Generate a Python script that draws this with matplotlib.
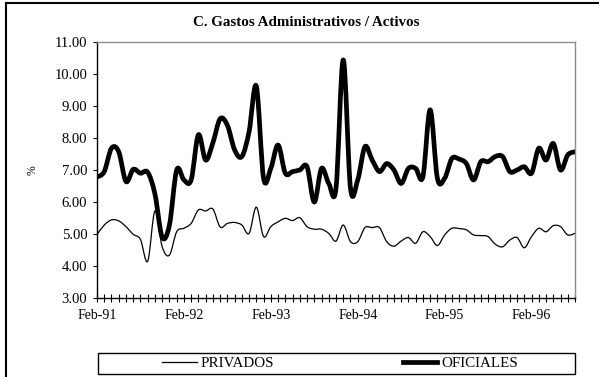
import matplotlib
matplotlib.use("Agg")
import matplotlib.pyplot as plt
import numpy as np
import pandas as pd
from matplotlib.lines import Line2D
from matplotlib.patches import Rectangle, PathPatch
from matplotlib.path import Path
from matplotlib.ticker import FixedLocator, FixedFormatter, FormatStrFormatter

plt.rcParams['font.family'] = ['Liberation Serif', 'DejaVu Serif']

# Monthly categories, Feb-91 .. Aug-96
months = pd.date_range("1991-02-01", "1996-08-01", freq="MS")
month_labels = [d.strftime("%b-%y") for d in months]

# Administrative expenses / assets (%)
privados = [4.98, 5.28, 5.44, 5.41, 5.23, 4.99, 4.83, 4.15, 5.72, 4.60,
            4.34, 5.07, 5.18, 5.33, 5.75, 5.72, 5.78, 5.22, 5.33, 5.36,
            5.28, 5.02, 5.84, 4.92, 5.23, 5.38, 5.49, 5.42, 5.51, 5.23,
            5.15, 5.15, 5.02, 4.78, 5.28, 4.76, 4.76, 5.20, 5.20, 5.20,
            4.76, 4.62, 4.78, 4.89, 4.71, 5.07, 4.92, 4.64, 4.97, 5.18,
            5.17, 5.13, 4.97, 4.95, 4.92, 4.68, 4.60, 4.81, 4.89, 4.57,
            4.92, 5.18, 5.07, 5.26, 5.23, 4.97, 5.02]

oficiales = [6.78, 6.95, 7.68, 7.57, 6.64, 7.02, 6.90, 6.93, 6.25, 4.90,
             5.28, 7.00, 6.69, 6.69, 8.10, 7.31, 7.85, 8.60, 8.40, 7.63,
             7.42, 8.20, 9.62, 6.74, 7.05, 7.78, 6.90, 6.95, 7.00, 7.10,
             6.00, 7.05, 6.58, 6.43, 10.44, 6.43, 6.69, 7.73, 7.31, 6.95,
             7.20, 7.00, 6.58, 7.05, 7.05, 6.79, 8.88, 6.74, 6.74, 7.36,
             7.34, 7.20, 6.69, 7.26, 7.26, 7.42, 7.42, 6.95, 7.00, 7.10,
             6.90, 7.68, 7.31, 7.83, 7.00, 7.47, 7.57]

y_ticks = [3, 4, 5, 6, 7, 8, 9, 10, 11]


def smooth_path(xs, ys, tension=1 / 6):
    """Cubic Bezier path through every data point (smoothed-line style)."""
    pts = np.column_stack([xs, ys]).astype(float)
    n = len(pts)
    verts = [pts[0]]
    codes = [Path.MOVETO]
    for i in range(n - 1):
        p0 = pts[max(i - 1, 0)]
        p1 = pts[i]
        p2 = pts[i + 1]
        p3 = pts[min(i + 2, n - 1)]
        c1 = p1 + (p2 - p0) * tension
        c2 = p2 - (p3 - p1) * tension
        verts += [c1, c2, p2]
        codes += [Path.CURVE4] * 3
    return Path(verts, codes)


W, H = 599, 377
fig = plt.figure(figsize=(W / 100, H / 100), dpi=100)
fig.patch.set_facecolor("white")

ax_left, ax_right, ax_top, ax_bottom = 97, 575, 42, 298
ax = fig.add_axes([ax_left / W, 1 - ax_bottom / H,
                   (ax_right - ax_left) / W, (ax_bottom - ax_top) / H])
x = np.arange(len(months))

series = [("PRIVADOS", privados, 0.9), ("OFICIALES", oficiales, 3.4)]
handles = []
for name, vals, lw in series:
    ax.add_patch(PathPatch(smooth_path(x, vals), facecolor="none",
                           edgecolor="black", lw=lw, joinstyle="round",
                           capstyle="round"))
    handles.append(Line2D([], [], color="black", lw=lw, label=name))

ax.set_xlim(0, len(months) - 1)
ax.set_ylim(y_ticks[0], y_ticks[-1])

# y axis
ax.set_yticks(y_ticks)
ax.yaxis.set_major_formatter(FormatStrFormatter("%.2f"))
ax.tick_params(axis="y", direction="out", length=3, width=0.8, pad=4,
               labelsize=10.5, colors="black")
ax.set_ylabel("%", fontsize=8.5)
ax.yaxis.set_label_coords((39 - ax_left) / (ax_right - ax_left),
                          (ax_bottom - 170) / (ax_bottom - ax_top))

# x axis: a tick every month, label every February
major_idx = [i for i, m in enumerate(months) if m.month == 2]
ax.xaxis.set_major_locator(FixedLocator(major_idx))
ax.xaxis.set_major_formatter(FixedFormatter([month_labels[i] for i in major_idx]))
ax.xaxis.set_minor_locator(FixedLocator(list(x)))
ax.tick_params(axis="x", which="both", direction="inout", length=6, width=0.8,
               pad=5, labelsize=10)

for side in ("top", "right"):
    ax.spines[side].set_color("#8c8c8c")
    ax.spines[side].set_linewidth(1.0)
for side in ("left", "bottom"):
    ax.spines[side].set_color("black")
    ax.spines[side].set_linewidth(1.0)

fig.text(306 / W, 1 - 23 / H, "C. Gastos Administrativos / Activos",
         ha="center", va="center", fontsize=10.8, fontweight="bold")

# legend box along the bottom
fig.add_artist(Rectangle((98 / W, 1 - 374 / H), (575 - 98) / W, 21 / H,
                         transform=fig.transFigure, fill=False,
                         edgecolor="black", lw=1.0))
leg = fig.legend(handles=handles, loc="center", ncol=2,
                 bbox_to_anchor=(340 / W, 1 - 363.5 / H), frameon=False,
                 fontsize=10.8, handlelength=2.3, handletextpad=0.25,
                 columnspacing=8.6)

# outer chart frame
fig.add_artist(Line2D([6 / W, 6 / W], [0, 1 - 3 / H], transform=fig.transFigure,
                      color="black", lw=1.5))
fig.add_artist(Line2D([6 / W, 1], [1 - 3 / H, 1 - 3 / H], transform=fig.transFigure,
                      color="black", lw=1.5))

fig.savefig("out.png", dpi=100)
